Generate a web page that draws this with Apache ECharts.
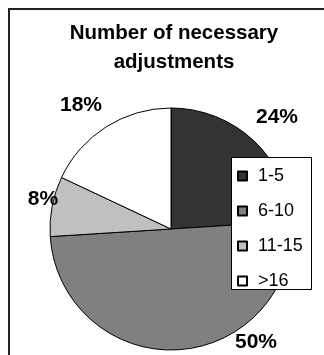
<!DOCTYPE html>
<html>
<head>
<meta charset="utf-8">
<script src="https://cdn.jsdelivr.net/npm/echarts@6/dist/echarts.min.js"></script>
<style>
  html, body { margin: 0; padding: 0; background: #fff; }
  #chart { width: 324px; height: 355px; }
</style>
</head>
<body>
<div id="chart"></div>
<script>
// Share of cases by number of necessary adjustments
const categories = ['1-5', '6-10', '11-15', '>16'];
const shares = [24, 50, 8, 18];
const fills = ['#333333', '#808080', '#c0c0c0', '#ffffff'];

// Where each percentage label sits, relative to the pie centre
const labelSpots = [[106, -112], [85, 113], [-128, -30], [-90, -124]];

const cx = 171, cy = 229;
const font = 'Arial, "Liberation Sans", sans-serif';

const chart = echarts.init(document.getElementById('chart'), null, { renderer: 'canvas' });

chart.setOption({
  animation: false,
  backgroundColor: '#ffffff',
  title: {
    text: 'Number of necessary\nadjustments',
    left: 169,
    textAlign: 'center',
    top: 14,
    textStyle: {
      fontFamily: font,
      fontWeight: 'bold',
      fontSize: 20.5,
      lineHeight: 29,
      color: '#000'
    }
  },
  graphic: [{
    // outer chart frame
    type: 'rect',
    shape: { x: 9, y: 9, width: 330, height: 360 },
    style: { fill: 'none', stroke: '#222', lineWidth: 2 },
    z: 0
  }, {
    // legend box, drawn over the pie
    type: 'rect',
    shape: { x: 231.5, y: 157.5, width: 80, height: 132 },
    style: { fill: '#ffffff', stroke: '#000', lineWidth: 1 },
    z: 8
  }],
  legend: {
    orient: 'vertical',
    left: 231,
    top: 157,
    data: categories,
    icon: 'rect',
    itemWidth: 9,
    itemHeight: 9,
    itemGap: 17,
    padding: [10, 8, 7, 6],
    selectedMode: false,
    textStyle: {
      fontFamily: font,
      fontSize: 18,
      lineHeight: 16,
      color: '#000',
      padding: [0, 0, 0, 6]
    },
    z: 10
  },
  series: [{
    type: 'pie',
    center: [cx, cy],
    radius: 121,
    startAngle: 90,
    clockwise: true,
    avoidLabelOverlap: false,
    data: categories.map((name, i) => ({
      name: name,
      value: shares[i],
      itemStyle: { color: fills[i] }
    })),
    itemStyle: { borderColor: '#000', borderWidth: 1 },
    label: {
      show: true,
      position: 'outside',
      formatter: p => p.value + '%',
      fontFamily: font,
      fontWeight: 'bold',
      fontSize: 21,
      color: '#000',
      overflow: 'none',
      width: null
    },
    labelLine: { show: false },
    labelLayout: p => ({
      x: cx + labelSpots[p.dataIndex][0],
      y: cy + labelSpots[p.dataIndex][1],
      align: 'center',
      verticalAlign: 'middle',
      hideOverlap: false
    }),
    emphasis: { disabled: true }
  }]
});
</script>
</body>
</html>
